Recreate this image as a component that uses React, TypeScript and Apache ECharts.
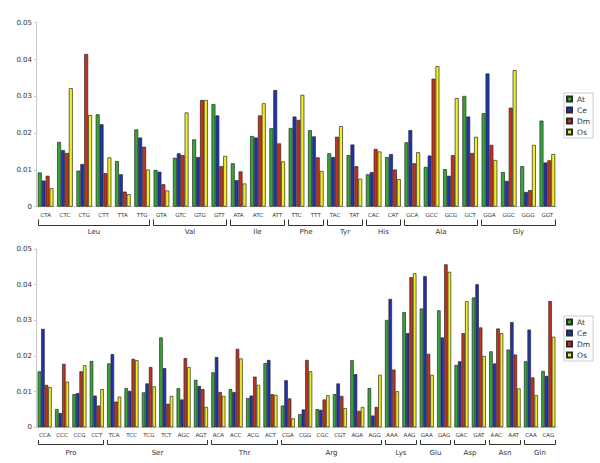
import React, { useEffect, useRef } from "react";
import * as echarts from "echarts";

const seriesNames = ["At", "Ce", "Dm", "Os"];
const seriesColors = ["#34a834", "#1f33b0", "#c4321c", "#f2ef1e"];

const topCodons = ["CTA","CTC","CTG","CTT","TTA","TTG","GTA","GTC","GTG","GTT","ATA","ATC","ATT","TTC","TTT","TAC","TAT","CAC","CAT","GCA","GCC","GCG","GCT","GGA","GGC","GGG","GGT"];
const topAmino = ["Leu","Val","Ile","Phe","Tyr","His","Ala","Gly"];
const topAminoSizes = [6,4,3,2,2,2,4,4];
const topAt = [0.0093,0.0176,0.0098,0.0251,0.0124,0.0210,0.0100,0.0133,0.0183,0.0279,0.0118,0.0192,0.0213,0.0214,0.0208,0.0145,0.0140,0.0088,0.0135,0.0175,0.0108,0.0102,0.0301,0.0254,0.0094,0.0110,0.0234];
const topCe = [0.0071,0.0154,0.0116,0.0224,0.0088,0.0188,0.0095,0.0145,0.0135,0.0248,0.0072,0.0188,0.0317,0.0245,0.0191,0.0135,0.0169,0.0094,0.0143,0.0208,0.0139,0.0084,0.0245,0.0362,0.0070,0.0040,0.0120];
const topDm = [0.0084,0.0146,0.0415,0.0091,0.0041,0.0163,0.0061,0.0140,0.0290,0.0110,0.0096,0.0248,0.0172,0.0236,0.0134,0.0190,0.0110,0.0157,0.0101,0.0118,0.0348,0.0140,0.0146,0.0168,0.0269,0.0045,0.0126];
const topOs = [0.0050,0.0322,0.0249,0.0134,0.0034,0.0101,0.0044,0.0256,0.0290,0.0138,0.0063,0.0281,0.0123,0.0304,0.0097,0.0219,0.0076,0.0150,0.0075,0.0148,0.0382,0.0295,0.0190,0.0127,0.0371,0.0168,0.0143];

const botCodons = ["CCA","CCC","CCG","CCT","TCA","TCC","TCG","TCT","AGC","AGT","ACA","ACC","ACG","ACT","CGA","CGG","CGC","CGT","AGA","AGG","AAA","AAG","GAA","GAG","GAC","GAT","AAC","AAT","CAA","CAG"];
const botAmino = ["Pro","Ser","Thr","Arg","Lys","Glu","Asp","Asn","Gln"];
const botAminoSizes = [4,6,4,6,2,2,2,2,2];
const botAt = [0.0157,0.0051,0.0093,0.0186,0.0179,0.0110,0.0098,0.0252,0.0110,0.0133,0.0154,0.0107,0.0082,0.0180,0.0061,0.0037,0.0051,0.0093,0.0188,0.0110,0.0301,0.0323,0.0333,0.0328,0.0175,0.0364,0.0213,0.0218,0.0185,0.0158];
const botCe = [0.0276,0.0040,0.0096,0.0089,0.0205,0.0102,0.0123,0.0166,0.0078,0.0116,0.0197,0.0099,0.0089,0.0189,0.0132,0.0050,0.0049,0.0123,0.0149,0.0033,0.0360,0.0264,0.0424,0.0252,0.0185,0.0401,0.0179,0.0295,0.0274,0.0144];
const botDm = [0.0119,0.0178,0.0157,0.0061,0.0072,0.0192,0.0169,0.0066,0.0194,0.0107,0.0099,0.0220,0.0142,0.0093,0.0081,0.0189,0.0078,0.0088,0.0046,0.0057,0.0162,0.0421,0.0206,0.0457,0.0264,0.0280,0.0277,0.0204,0.0140,0.0354];
const botOs = [0.0113,0.0128,0.0174,0.0107,0.0086,0.0188,0.0115,0.0088,0.0169,0.0057,0.0088,0.0193,0.0119,0.0091,0.0025,0.0157,0.0090,0.0054,0.0057,0.0147,0.0101,0.0432,0.0147,0.0436,0.0354,0.0200,0.0264,0.0109,0.0090,0.0254];

const FONT = "DejaVu Sans";

function groupRanges(sizes: number[]) {
  const out: number[][] = [];
  let s = 0;
  for (const n of sizes) {
    out.push([s, 0, s + n - 1]);
    s += n;
  }
  return out;
}

function bracketSeries(idx: number, names: string[], sizes: number[], lineOff: number, tickH: number, labelOff: number) {
  return {
    type: "custom",
    xAxisIndex: idx,
    yAxisIndex: idx,
    silent: true,
    clip: false,
    itemStyle: { color: "#333" },
    encode: { x: 0, y: 1 },
    data: groupRanges(sizes),
    renderItem: (params: any, api: any) => {
      const s = api.value(0);
      const e = api.value(2);
      const p1 = api.coord([s, 0]);
      const p2 = api.coord([e, 0]);
      const band = api.size([1, 0])[0];
      const x1 = Math.round(p1[0] - band / 2 + 1.5) + 0.5;
      const x2 = Math.round(p2[0] + band / 2 - 1.5) - 0.5;
      const ly = Math.round(p1[1] + lineOff) + 0.5;
      return {
        type: "group",
        children: [
          {
            type: "polyline",
            shape: { points: [[x1, ly - tickH], [x1, ly], [x2, ly], [x2, ly - tickH]] },
            style: { stroke: "#333", fill: "none", lineWidth: 1 },
          },
          {
            type: "text",
            style: {
              text: names[params.dataIndex],
              x: (x1 + x2) / 2,
              y: ly + labelOff,
              align: "center",
              verticalAlign: "middle",
              fontSize: 7,
              fontFamily: FONT,
              fill: "#333",
            },
          },
        ],
      };
    },
  };
}

export default function App() {
  const ref = useRef<HTMLDivElement>(null);
  useEffect(() => {
    if (!ref.current) return;
    const chart = echarts.init(ref.current, null, { renderer: "svg" });
    const topData = [topAt, topCe, topDm, topOs];
    const botData = [botAt, botCe, botDm, botOs];
    const mkX = (gi: number, cats: string[], margin: number) => ({
      type: "category",
      gridIndex: gi,
      data: cats,
      axisLine: { show: true, lineStyle: { color: "#ccc", type: "dotted", width: 1 } },
      axisTick: { show: false },
      axisLabel: { fontSize: 5.5, fontFamily: FONT, color: "#333", margin, interval: 0 },
    });
    const mkY = (gi: number) => ({
      type: "value",
      gridIndex: gi,
      min: 0,
      max: 0.05,
      interval: 0.01,
      splitLine: { show: false },
      axisLine: { show: true, lineStyle: { color: "#c8c8c8", width: 1 } },
      axisTick: { show: true, length: 2, lineStyle: { color: "#c8c8c8" } },
      axisLabel: {
        fontSize: 7,
        fontFamily: FONT,
        color: "#333",
        margin: 4,
        formatter: (v: number) => (v === 0 ? "0" : v.toFixed(2)),
      },
    });
    const mkBars = (gi: number, data: number[][]) =>
      seriesNames.map((n, i) => ({
        type: "bar",
        name: n,
        xAxisIndex: gi,
        yAxisIndex: gi,
        data: data[i],
        barGap: "0%",
        barCategoryGap: "19%",
        itemStyle: { color: seriesColors[i], borderColor: "#2a2a2a", borderWidth: 0.7 },
      }));
    const mkLegend = (top: number) => ({
      orient: "vertical",
      left: 564,
      top,
      data: seriesNames,
      icon: "rect",
      itemWidth: 5,
      itemHeight: 5,
      itemGap: 3,
      padding: [2, 3, 2, 2],
      borderColor: "#ccc",
      borderWidth: 1,
      backgroundColor: "#fff",
      inactiveColor: "#ccc",
      textStyle: { fontSize: 7.5, fontFamily: FONT, color: "#333", lineHeight: 8 },
    });
    chart.setOption({
      animation: false,
      backgroundColor: "#fff",
      textStyle: { fontFamily: FONT },
      grid: [
        { left: 36, top: 22.7, width: 521, height: 184 },
        { left: 36, top: 249, width: 521, height: 178.3 },
      ],
      xAxis: [mkX(0, topCodons, 5.5), mkX(1, botCodons, 5)],
      yAxis: [mkY(0), mkY(1)],
      legend: [mkLegend(93), mkLegend(316)],
      series: [
        ...mkBars(0, topData),
        ...mkBars(1, botData),
        bracketSeries(0, topAmino, topAminoSizes, 18.6, 6, 6),
        bracketSeries(1, botAmino, botAminoSizes, 16.5, 4.5, 8),
      ],
    });
    return () => chart.dispose();
  }, []);
  return (
    <div
      ref={ref}
      style={{ position: "fixed", left: 0, top: 0, width: 600, height: 463, background: "#fff" }}
    />
  );
}
